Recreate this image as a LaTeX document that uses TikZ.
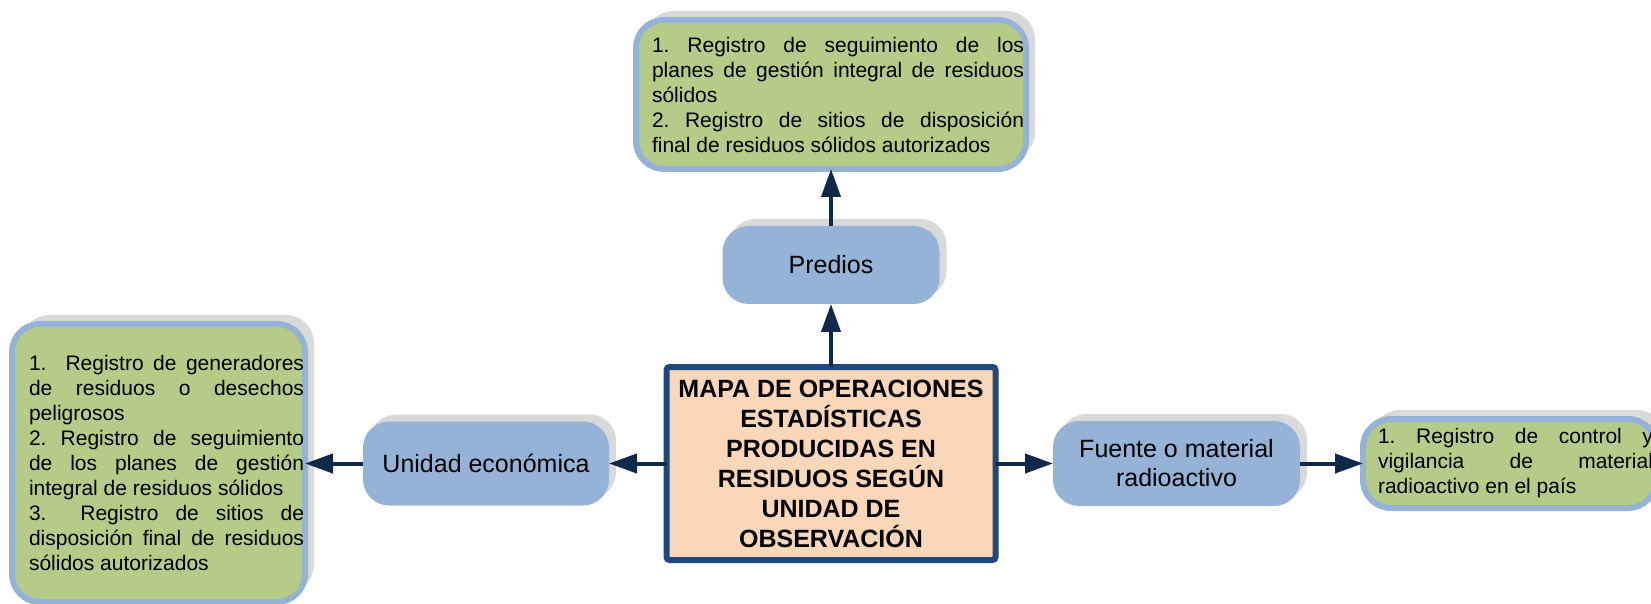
\documentclass[tikz,border=0pt]{standalone}
\usepackage{fontspec}
\setmainfont{Liberation Sans}
\usetikzlibrary{arrows.meta,shadows}
\definecolor{greenfill}{HTML}{B6CB88}
\definecolor{bluebox}{HTML}{95B3D7}
\definecolor{shadowgray}{HTML}{D9D9D9}
\definecolor{navy}{HTML}{10294A}
\definecolor{titleborder}{HTML}{1F497D}
\definecolor{peach}{HTML}{FBD7B9}
\hyphenpenalty=10000
\exhyphenpenalty=10000
\frenchspacing
\begin{document}
\begin{tikzpicture}[x=1pt,y=1pt,
  listbox/.style={draw=bluebox, line width=6pt, fill=greenfill, rounded corners=28pt,
    inner sep=0pt, outer sep=0pt,
    general shadow={shadow xshift=9pt, shadow yshift=9pt, fill=shadowgray},
    font=\fontsize{21pt}{25pt}\selectfont},
  catbox/.style={fill=bluebox, rounded corners=26pt, inner sep=0pt, outer sep=0pt,
    align=center,
    general shadow={shadow xshift=7pt, shadow yshift=7pt, fill=shadowgray},
    font=\fontsize{25pt}{29pt}\selectfont},
  titlebox/.style={draw=titleborder, line width=6pt, fill=peach, rounded corners=3pt,
    inner sep=0pt, outer sep=0pt, align=center,
    font=\fontsize{25pt}{30pt}\selectfont\bfseries},
  link/.style={draw=navy, line width=4pt, -{Triangle[length=28pt,width=19pt]}}
]
\useasboundingbox (0,0) rectangle (1651,603);
\clip (0,0) rectangle (1651,603);

\node[titlebox, minimum width=329pt, minimum height=193pt] (title) at (831,139.5)
  {MAPA DE OPERACIONES\\ESTADÍSTICAS\\PRODUCIDAS EN\\RESIDUOS SEGÚN\\UNIDAD DE\\OBSERVACIÓN};

\node[catbox, minimum width=217pt, minimum height=78pt] (pred) at (831,338) {Predios};
\node[catbox, minimum width=246pt, minimum height=84pt] (unid) at (486,139.5) {Unidad económica};
\node[catbox, minimum width=247pt, minimum height=85pt] (fuente) at (1176.5,139.5) {Fuente o material\\radioactivo};

\node[listbox, minimum width=390pt, minimum height=149pt] (top) at (831,508.5)
  {\hspace{14pt}\parbox[c]{372pt}{\tolerance=10000\hbadness=10000
   1. Registro de seguimiento de los\linebreak planes de gestión integral de residuos\linebreak sólidos\par
   2. Registro de sitios de disposición\linebreak final de residuos sólidos autorizados}};

\node[listbox, minimum width=293pt, minimum height=278pt] (left) at (158.5,140)
  {\hspace{16pt}\parbox[c]{275pt}{\tolerance=10000\hbadness=10000
   1.~ Registro de generadores\linebreak de residuos o desechos\linebreak peligrosos\par
   2. Registro de seguimiento\linebreak de los planes de gestión\linebreak integral de residuos sólidos\par
   3.~ Registro de sitios de\linebreak disposición final de residuos\linebreak sólidos autorizados}};

\node[listbox, minimum width=293pt, minimum height=89pt] (right) at (1509.5,139.5)
  {\hspace{12pt}\parbox[c]{275pt}{\tolerance=10000\hbadness=10000
   1. Registro de control y\linebreak vigilancia de material\linebreak radioactivo en el país}};

\draw[link] (title.north) -- (pred.south);
\draw[link] (pred.north) -- (top.south);
\draw[link] (title.west) -- (unid.east |- title.west);
\draw[link] (unid.west) -- (left.east |- unid.west);
\draw[link] (title.east) -- (fuente.west |- title.east);
\draw[link] (fuente.east) -- (right.west |- fuente.east);
\end{tikzpicture}
\end{document}
